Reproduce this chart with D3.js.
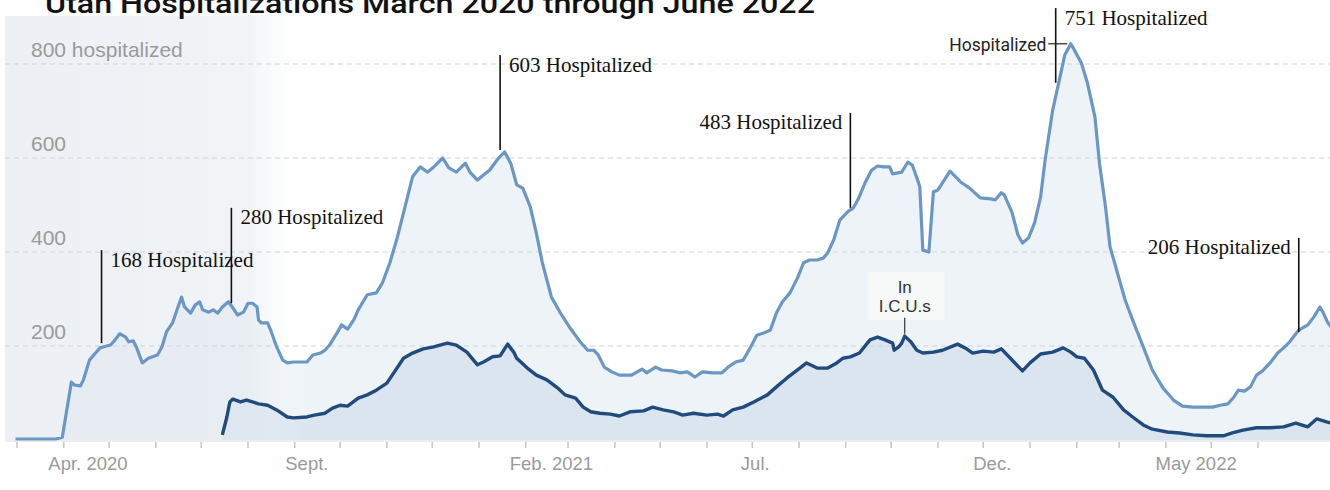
<!DOCTYPE html>
<html><head><meta charset="utf-8">
<script src="https://cdn.jsdelivr.net/npm/d3@7"></script>
<style>body{margin:0;background:#fff;overflow:hidden} svg{display:block}</style>
</head><body>
<svg id="chart" width="1330" height="490"></svg>
<script>
// ---------------- DATA ----------------
const title = "Utah Hospitalizations March 2020 through June 2022";
const startDay = "2020-03-01";
const endTickDay = "2022-06-01";
const yTicks = [200, 400, 600, 800];
const yTickLabels = ["200", "400", "600", "800 hospitalized"];
const xLabelDates = ["2020-04-17", "2020-09-09", "2021-02-18", "2021-07-03", "2021-12-07", "2022-04-21"];
const xLabels = ["Apr. 2020", "Sept.", "Feb. 2021", "Jul.", "Dec.", "May 2022"];

// [days since 2020-03-01, patients]
const hospitalized = [[-1,2],[20,2],[26,2],[30,6],[36,123],[38,117],[42,115],[44,128],[48,170],[52,185],[55,196],[57,198],[62,202],[65,213],[68,226],[72,219],[74,209],[77,211],[79,198],[83,164],[87,174],[93,181],[96,198],[99,230],[103,249],[106,277],[109,304],[111,283],[115,270],[118,287],[121,294],[123,277],[127,272],[130,277],[133,270],[136,283],[140,294],[143,281],[146,266],[150,272],[153,291],[156,291],[159,283],[160,255],[162,249],[166,249],[168,234],[172,198],[176,170],[179,164],[183,166],[187,166],[192,166],[196,181],[201,185],[204,191],[207,202],[212,228],[215,245],[219,236],[223,255],[226,277],[232,309],[238,313],[242,334],[247,377],[252,432],[257,496],[262,560],[267,581],[272,570],[276,581],[282,600],[286,579],[291,570],[297,589],[300,570],[305,553],[309,564],[313,574],[319,600],[323,613],[327,589],[331,543],[335,536],[340,496],[344,440],[348,377],[354,304],[360,270],[366,240],[373,209],[378,191],[382,191],[385,181],[389,155],[394,145],[399,138],[407,138],[414,151],[417,143],[423,155],[427,149],[434,147],[439,143],[444,145],[449,134],[454,145],[461,143],[467,143],[471,155],[476,166],[481,170],[486,198],[490,223],[495,228],[499,234],[503,270],[507,294],[512,313],[517,345],[521,377],[525,383],[530,383],[534,387],[537,398],[541,426],[545,468],[550,485],[554,494],[557,511],[562,549],[566,574],[570,583],[574,581],[578,581],[580,566],[586,570],[590,591],[593,585],[597,549],[598,538],[600,404],[604,400],[607,528],[610,532],[618,572],[625,549],[631,536],[638,515],[645,513],[648,511],[652,526],[654,521],[659,485],[663,436],[666,419],[670,430],[674,462],[678,517],[681,596],[686,702],[690,760],[694,819],[698,843],[699,838],[705,802],[709,760],[714,687],[717,589],[721,496],[724,411],[734,298],[739,255],[746,198],[752,149],[759,111],[766,85],[772,72],[779,70],[786,70],[792,70],[797,74],[802,77],[806,91],[809,106],[813,104],[817,113],[821,138],[825,147],[830,164],[835,185],[839,196],[843,209],[849,234],[855,245],[859,262],[863,283],[865,272],[868,251],[871,238]];

const inICU = [[136,11],[139,49],[141,81],[143,87],[148,81],[152,85],[156,81],[160,77],[166,74],[172,64],[179,49],[183,47],[192,49],[197,53],[204,57],[209,68],[214,74],[219,72],[226,89],[232,96],[238,106],[245,121],[250,145],[256,174],[262,185],[269,194],[276,198],[285,206],[291,202],[298,187],[305,160],[309,166],[315,177],[320,179],[325,204],[329,187],[331,174],[338,153],[344,138],[351,128],[358,111],[363,96],[370,89],[375,70],[380,60],[386,57],[393,55],[399,51],[406,60],[415,62],[421,70],[428,64],[435,60],[441,53],[448,57],[457,53],[464,55],[468,51],[474,64],[481,70],[488,81],[497,96],[503,113],[510,132],[517,149],[523,164],[530,153],[537,153],[543,164],[547,174],[552,177],[558,185],[565,213],[570,219],[575,213],[580,206],[581,191],[584,198],[586,206],[588,221],[592,209],[596,191],[600,185],[607,187],[613,191],[623,204],[629,194],[633,185],[640,189],[647,187],[652,194],[658,174],[666,147],[671,164],[678,183],[686,187],[693,196],[698,187],[702,177],[707,174],[713,149],[719,106],[726,91],[733,64],[739,49],[746,32],[752,23],[762,17],[770,15],[779,11],[788,9],[799,9],[805,15],[812,21],[821,26],[830,26],[839,28],[847,36],[855,28],[861,45],[868,38],[871,36]];

const annoTexts = ["168 Hospitalized", "280 Hospitalized", "603 Hospitalized", "483 Hospitalized", "751 Hospitalized", "206 Hospitalized"];
const annoDays = [56, 142, 320, 552, 688, 849];
const annoFrom = [206, 291, 617, 494, 760, 230];
const annoTo = [404, 494, 819, 696, 919, 430];
const annoSide = ["right", "right", "right", "left", "right", "left"];

const hospLabel = {text: "Hospitalized", day: 697, value: 843};
const icuLabel = {lines: ["In", "I.C.U.s"], day: 588, from: 226, to: 260};

// ---------------- CHART ----------------
const parse = d3.timeParse("%Y-%m-%d");
const t0 = parse(startDay);
const toDate = d => d3.timeDay.offset(t0, d);

const svg = d3.select("#chart");
const x = d3.scaleTime().domain([t0, parse(endTickDay)]).range([17, 1258]);
const y = d3.scaleLinear().domain([0, 800]).range([440, 64]);
const left = 5, right = 1330;

const defs = svg.append("defs");
const g1 = defs.append("linearGradient").attr("id", "fade").attr("x1", "0").attr("x2", "1").attr("y1", "0").attr("y2", "0");
g1.append("stop").attr("offset", "0").attr("stop-color", "#dfe5ec").attr("stop-opacity", 0.6);
g1.append("stop").attr("offset", "0.8").attr("stop-color", "#e3e8ee").attr("stop-opacity", 0.5);
g1.append("stop").attr("offset", "1").attr("stop-color", "#ffffff").attr("stop-opacity", 0);

const hospData = hospitalized.map(([d, v]) => ({date: toDate(d), v}));
const icuData = inICU.map(([d, v]) => ({date: toDate(d), v}));
const area = d3.area().x(d => x(d.date)).y0(y(0)).y1(d => y(d.v));
const line = d3.line().x(d => x(d.date)).y(d => y(d.v));

svg.append("path").datum(hospData).attr("d", area).attr("fill", "#eef3f8");
svg.append("path").datum(icuData).attr("d", area).attr("fill", "#dae5f0");

svg.append("rect").attr("x", left).attr("y", 16).attr("width", 305).attr("height", y(0) - 16)
  .attr("fill", "url(#fade)");

svg.append("g").selectAll("line").data(yTicks).join("line")
  .attr("x1", left).attr("x2", right).attr("y1", d => y(d)).attr("y2", d => y(d))
  .attr("stroke", "#cdd5df").attr("stroke-width", 1).attr("stroke-dasharray", "5,4");

svg.append("g").selectAll("text").data(yTicks).join("text")
  .attr("x", 31).attr("y", d => y(d) - 7)
  .attr("font-family", "Liberation Sans, Arial, sans-serif").attr("font-size", 21)
  .attr("fill", "#9a9a9a").text((d, i) => yTickLabels[i]);

svg.append("path").datum(hospData).attr("d", line).attr("fill", "none")
  .attr("stroke", "#6b97c4").attr("stroke-width", 3.2).attr("stroke-linejoin", "round");
svg.append("path").datum(icuData).attr("d", line).attr("fill", "none")
  .attr("stroke", "#214b7d").attr("stroke-width", 3.4).attr("stroke-linejoin", "round");

svg.append("line").attr("x1", left).attr("x2", right).attr("y1", y(0) + 1).attr("y2", y(0) + 1)
  .attr("stroke", "#dcdcdc").attr("stroke-width", 1);
const months = d3.timeMonth.range(t0, d3.timeMonth.offset(parse(endTickDay), 1));
svg.append("g").selectAll("line").data(months).join("line")
  .attr("x1", d => x(d)).attr("x2", d => x(d))
  .attr("y1", y(0) + 2).attr("y2", y(0) + 8)
  .attr("stroke", "#b5b5b5").attr("stroke-width", 1.2);
svg.append("g").selectAll("text").data(xLabelDates).join("text")
  .attr("x", d => x(parse(d))).attr("y", 470).attr("text-anchor", "middle")
  .attr("font-family", "Liberation Sans, Arial, sans-serif").attr("font-size", 18.5)
  .attr("fill", "#9a9a9a").text((d, i) => xLabels[i]);

const ann = svg.append("g");
annoTexts.forEach((t, i) => {
  const ax = x(toDate(annoDays[i]));
  ann.append("line").attr("x1", ax).attr("x2", ax)
    .attr("y1", y(annoFrom[i])).attr("y2", y(annoTo[i]))
    .attr("stroke", "#111").attr("stroke-width", 1.6);
  ann.append("text")
    .attr("x", annoSide[i] === "right" ? ax + 9 : ax - 8)
    .attr("y", y(annoTo[i]) + 16.5)
    .attr("text-anchor", annoSide[i] === "right" ? "start" : "end")
    .attr("font-family", "Liberation Serif, Times New Roman, serif").attr("font-size", 21)
    .attr("fill", "#111").text(t);
});

const hx = x(toDate(hospLabel.day)), hy = y(hospLabel.value);
ann.append("line").attr("x1", hx - 21).attr("x2", hx - 2).attr("y1", hy).attr("y2", hy)
  .attr("stroke", "#222").attr("stroke-width", 1.2);
ann.append("text").attr("x", hx - 23).attr("y", hy + 7).attr("text-anchor", "end")
  .attr("font-family", "Roboto, Arial, sans-serif").attr("font-weight", 400).attr("font-size", 17.5)
  .attr("fill", "#222").text(hospLabel.text);

const ix = x(toDate(icuLabel.day));
const iTop = y(icuLabel.to), iBot = y(icuLabel.from);
ann.append("rect").attr("x", ix - 37).attr("y", iTop - 46).attr("width", 77).attr("height", 48)
  .attr("fill", "#f8f8f8").attr("opacity", 0.85);
ann.append("line").attr("x1", ix).attr("x2", ix).attr("y1", iTop).attr("y2", iBot)
  .attr("stroke", "#333").attr("stroke-width", 1.2);
icuLabel.lines.forEach((l, i) => {
  ann.append("text").attr("x", ix).attr("y", iTop - 25 + i * 19).attr("text-anchor", "middle")
    .attr("font-family", "Liberation Sans, Arial, sans-serif").attr("font-size", 17)
    .attr("fill", "#333").text(l);
});

svg.append("text").attr("x", 45).attr("y", 13)
  .attr("font-family", "Roboto, Arial, sans-serif").attr("font-weight", 500).attr("font-size", 28)
  .attr("textLength", 770).attr("lengthAdjust", "spacingAndGlyphs")
  .attr("fill", "#111").text(title);
</script>
</body></html>
